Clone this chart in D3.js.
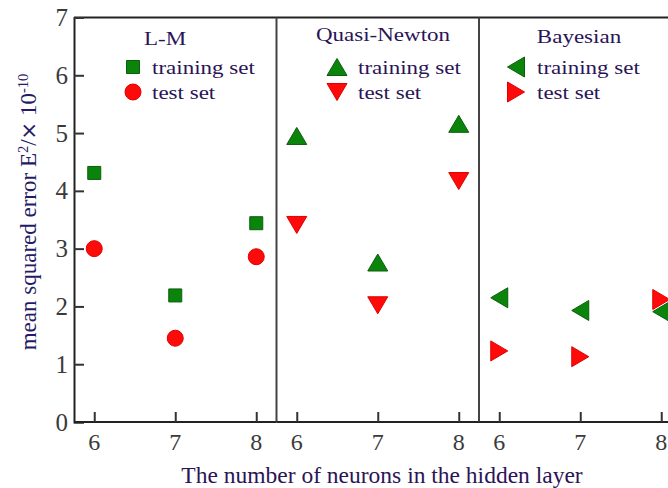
<!DOCTYPE html>
<html>
<head>
<meta charset="utf-8">
<script src="https://cdn.jsdelivr.net/npm/d3@7/dist/d3.min.js"></script>
<style>
  html, body { margin: 0; padding: 0; background: #fff; }
  svg { display: block; }
  text { font-family: "Liberation Serif", "Times New Roman", serif; }
</style>
</head>
<body>
<svg id="chart" width="668" height="488"></svg>
<script>
// Training methods (one panel each) and hidden-layer sizes
const methods = ["L-M", "Quasi-Newton", "Bayesian"];
const neurons = [6, 7, 8];

// Mean squared error (×10^-10) per method
const lmTrain  = [4.31, 2.19, 3.44];
const lmTest   = [3.00, 1.45, 2.86];
const qnTrain  = [4.95, 2.76, 5.16];
const qnTest   = [3.41, 2.02, 4.17];
const bayTrain = [2.15, 1.93, 1.91];
const bayTest  = [1.23, 1.13, 2.12];

const yTicks = [0, 1, 2, 3, 4, 5, 6, 7];
const seriesLabels = ["training set", "test set"];

const GREEN = "#0a840a", GREEN_EDGE = "#0b5e0b";
const RED = "#ff0a0a", RED_EDGE = "#e00000";
const TEXT = "#2a1456";

const svg = d3.select("#chart");

const plotLeft = 74, plotTop = 17.5, plotBottom = 422, panelW = 202.5;

const panelScale = d3.scaleBand()
  .domain(methods)
  .range([plotLeft, plotLeft + panelW * methods.length])
  .padding(0);

const xInner = d3.scaleLinear().domain([5.75, 8.25]).range([0, panelScale.bandwidth()]);
const y = d3.scaleLinear().domain([0, 7]).range([plotBottom, plotTop]);

// Triangle generator: pointing up / down / left / right
function triangle(dir, w, h) {
  return {
    draw(ctx) {
      const hw = w / 2, hh = h / 2;
      if (dir === "up")    { ctx.moveTo(0, -hh); ctx.lineTo(hw, hh); ctx.lineTo(-hw, hh); }
      if (dir === "down")  { ctx.moveTo(0, hh); ctx.lineTo(hw, -hh); ctx.lineTo(-hw, -hh); }
      if (dir === "left")  { ctx.moveTo(-hh, 0); ctx.lineTo(hh, -hw); ctx.lineTo(hh, hw); }
      if (dir === "right") { ctx.moveTo(hh, 0); ctx.lineTo(-hh, -hw); ctx.lineTo(-hh, hw); }
      ctx.closePath();
    }
  };
}

const panels = [
  { name: "L-M", train: lmTrain, test: lmTest,
    trainSym: d3.symbol(d3.symbolSquare, 169), testSym: d3.symbol(d3.symbolCircle, 201) },
  { name: "Quasi-Newton", train: qnTrain, test: qnTest,
    trainSym: d3.symbol(triangle("up", 20, 17)), testSym: d3.symbol(triangle("down", 20, 17)) },
  { name: "Bayesian", train: bayTrain, test: bayTest,
    trainSym: d3.symbol(triangle("left", 20, 17)), testSym: d3.symbol(triangle("right", 20, 17)) }
];

// Frame: top line across all panels
const plotRight = plotLeft + panelW * methods.length;
svg.append("line").attr("x1", plotLeft).attr("x2", plotRight).attr("y1", y(7)).attr("y2", y(7))
  .attr("stroke", "#222").attr("stroke-width", 2);

// Y axis with inward ticks
const yAxis = d3.axisRight(y).tickValues(yTicks).tickSize(10).tickFormat("");
svg.append("g").attr("transform", `translate(${plotLeft},0)`).call(yAxis)
  .call(g => g.select(".domain").attr("stroke", "#222").attr("stroke-width", 2))
  .call(g => g.selectAll(".tick line").attr("stroke", "#333").attr("stroke-width", 2));
svg.append("g").selectAll("text").data(yTicks).join("text")
  .attr("x", 68).attr("y", d => y(d)).attr("dy", "0.34em")
  .attr("text-anchor", "end").attr("font-size", 25).attr("fill", "#3a3a3a")
  .text(d => d);

panels.forEach((p, i) => {
  const x0 = panelScale(p.name);
  const g = svg.append("g").attr("transform", `translate(${x0},0)`);

  // bottom axis with inward ticks
  const xAxis = d3.axisTop(xInner).tickValues(neurons).tickSize(10).tickFormat("");
  g.append("g").attr("transform", `translate(0,${plotBottom})`).call(xAxis)
    .call(a => a.select(".domain").attr("d", `M0,0H${panelScale.bandwidth()}`)
      .attr("stroke", "#222").attr("stroke-width", 2))
    .call(a => a.selectAll(".tick line").attr("stroke", "#333").attr("stroke-width", 2));
  g.selectAll("text.xt").data(neurons).join("text").attr("class", "xt")
    .attr("x", d => xInner(d)).attr("y", 450)
    .attr("text-anchor", "middle").attr("font-size", 24).attr("fill", "#3a3a3a")
    .text(d => d);

  // panel separator on the right edge
  if (i < panels.length - 1) {
    g.append("line").attr("x1", panelScale.bandwidth()).attr("x2", panelScale.bandwidth())
      .attr("y1", y(7)).attr("y2", plotBottom).attr("stroke", "#444").attr("stroke-width", 2);
  }

  // data markers
  g.selectAll("path.train").data(p.train).join("path").attr("class", "train")
    .attr("transform", (d, j) => `translate(${xInner(neurons[j])},${y(d)})`)
    .attr("d", p.trainSym).attr("fill", GREEN).attr("stroke", GREEN_EDGE).attr("stroke-width", 1);
  g.selectAll("path.test").data(p.test).join("path").attr("class", "test")
    .attr("transform", (d, j) => `translate(${xInner(neurons[j])},${y(d)})`)
    .attr("d", p.testSym).attr("fill", RED).attr("stroke", RED_EDGE).attr("stroke-width", 1);
});

// Legends
const legendPos = [
  { title: [165, 45], marker: 133, text: 152 },
  { title: [383, 41], marker: 337, text: 358 },
  { title: [579, 43], marker: 516, text: 537 }
];
const rowY = [67, 92];
panels.forEach((p, i) => {
  const L = legendPos[i];
  svg.append("g").attr("transform", `translate(${L.title[0]},${L.title[1]}) scale(1.18,1)`)
    .append("text").attr("text-anchor", "middle").attr("font-size", 19.5).attr("fill", TEXT)
    .text(p.name);
  [p.trainSym, p.testSym].forEach((sym, k) => {
    svg.append("path").attr("transform", `translate(${L.marker},${rowY[k]})`)
      .attr("d", sym).attr("fill", k === 0 ? GREEN : RED)
      .attr("stroke", k === 0 ? GREEN_EDGE : RED_EDGE).attr("stroke-width", 1);
    svg.append("g").attr("transform", `translate(${L.text},${rowY[k] + 6.5}) scale(1.18,1)`)
      .append("text").attr("font-size", 19.5).attr("fill", TEXT).text(seriesLabels[k]);
  });
});

// Axis titles
svg.append("text").attr("x", 382).attr("y", 483).attr("text-anchor", "middle")
  .attr("font-size", 23.5).attr("fill", TEXT)
  .text("The number of neurons in the hidden layer");

const yl = svg.append("text").attr("transform", "translate(36,212) rotate(-90)")
  .attr("text-anchor", "middle").attr("font-size", 23).attr("fill", "#241a66");
yl.append("tspan").text("mean squared error E");
yl.append("tspan").attr("dy", -8).attr("font-size", 14.5).text("2");
yl.append("tspan").attr("dy", 8).text("/");
yl.append("tspan").attr("font-family", "DejaVu Sans").attr("font-size", 21).text("×");
yl.append("tspan").text(" 10");
yl.append("tspan").attr("dy", -8).attr("font-size", 14.5).text("-10");
</script>
</body>
</html>
